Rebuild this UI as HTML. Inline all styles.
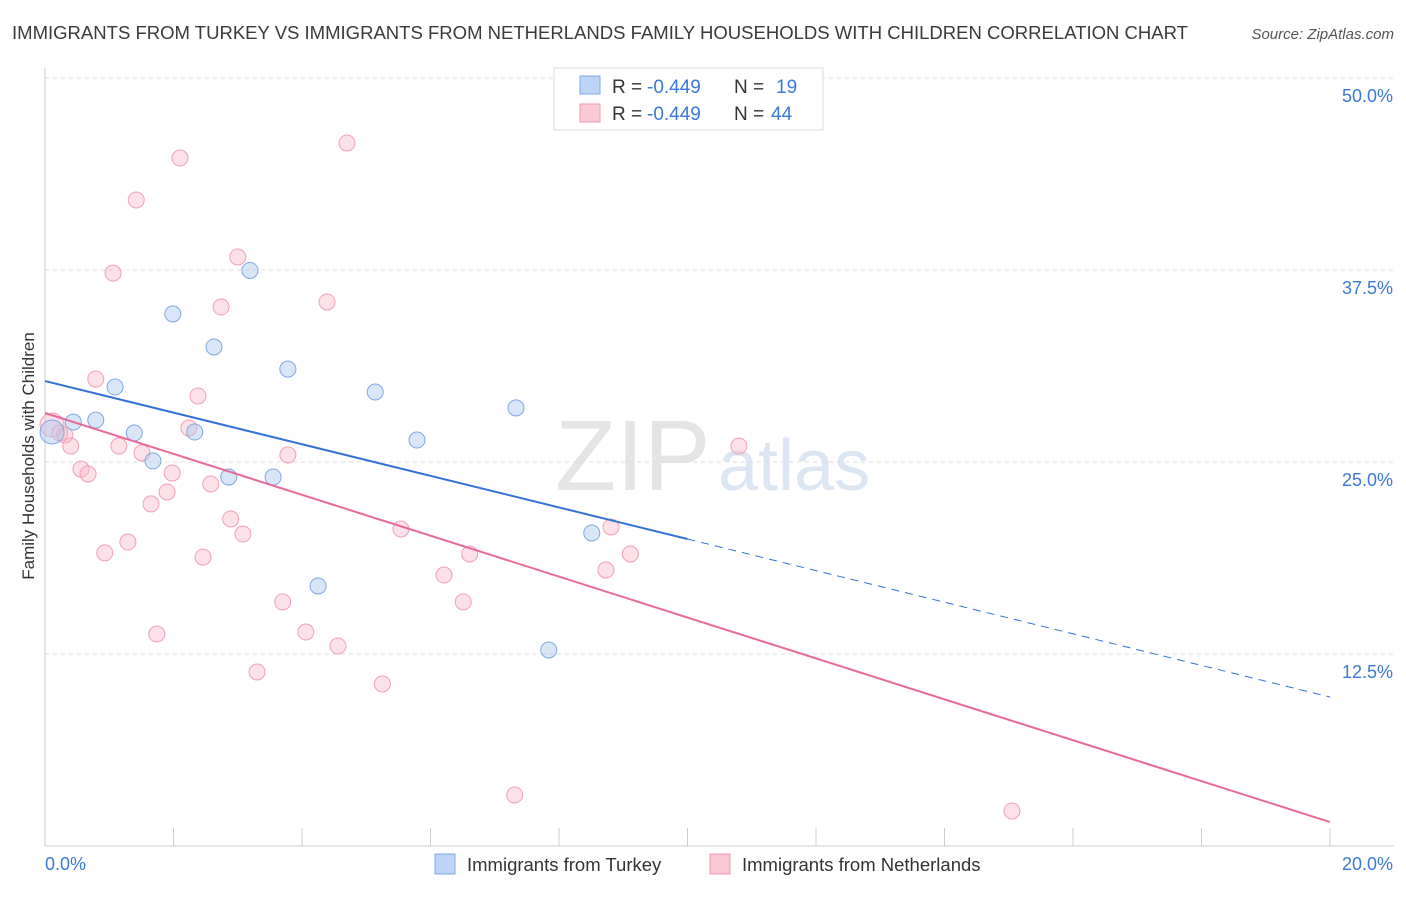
<!DOCTYPE html>
<html><head><meta charset="utf-8"><style>
body{margin:0;background:#fff;font-family:"Liberation Sans",sans-serif;}
svg text{font-family:"Liberation Sans",sans-serif;}
</style></head><body>
<svg id="c" width="1406" height="892">
<text x="12" y="39" font-size="18" fill="#3a3a3a" textLength="1176" lengthAdjust="spacingAndGlyphs">IMMIGRANTS FROM TURKEY VS IMMIGRANTS FROM NETHERLANDS FAMILY HOUSEHOLDS WITH CHILDREN CORRELATION CHART</text>
<text x="1394" y="39" font-size="15" fill="#555" text-anchor="end" font-style="italic">Source: ZipAtlas.com</text>
<text x="555" y="490" font-size="100" fill="#e4e4e4" font-family="Liberation Serif">ZIP</text>
<text x="718" y="490" font-size="72" fill="#dce6f3">atlas</text>
<text transform="translate(34,456) rotate(-90)" font-size="17" fill="#333" text-anchor="middle">Family Households with Children</text>
<g id="grid"></g><g id="marks"></g>
<g>
<rect x="554" y="68" width="269" height="62" fill="#fff" stroke="#ddd"/>
<rect x="580" y="76" width="20" height="18" fill="#bcd4f5" stroke="#7fa9e0"/>
<rect x="580" y="104" width="20" height="18" fill="#fbc8d6" stroke="#f09ab2"/>
<text x="612" y="93" font-size="19" fill="#333">R =</text><text x="647" y="93" font-size="19" fill="#3b78d8">-0.449</text>
<text x="734" y="93" font-size="19" fill="#333">N =</text><text x="776" y="93" font-size="19" fill="#3b78d8">19</text>
<text x="612" y="120" font-size="19" fill="#333">R =</text><text x="647" y="120" font-size="19" fill="#3b78d8">-0.449</text>
<text x="734" y="120" font-size="19" fill="#333">N =</text><text x="771" y="120" font-size="19" fill="#3b78d8">44</text>
</g>
<g>
<rect x="435" y="854" width="20" height="20" fill="#bcd4f5" stroke="#7fa9e0"/>
<text x="467" y="871" font-size="18.5" fill="#333">Immigrants from Turkey</text>
<rect x="710" y="854" width="20" height="20" fill="#fbc8d6" stroke="#f09ab2"/>
<text x="742" y="871" font-size="18.5" fill="#333">Immigrants from Netherlands</text>
</g>
</svg>
<script>
const xTicks=[0,20];
const yTicks=[12.5,25,37.5,50];
const turkeyX=[0.11,0.44,0.79,1.09,1.39,1.68,1.99,2.33,2.63,2.86,3.19,3.55,3.78,4.25,5.14,5.79,7.33,7.84,8.51];
const turkeyY=[26.95,27.6,27.73,29.88,26.89,25.07,34.64,26.95,32.49,24.02,37.47,24.02,31.05,16.93,29.56,26.43,28.52,12.76,20.38];
const nethX=[0.11,0.23,0.31,0.56,0.40,0.67,0.79,0.93,1.06,1.15,1.29,1.42,1.51,1.65,1.74,1.90,1.98,2.10,2.24,2.38,2.46,2.58,2.74,2.89,3.00,3.08,3.30,3.70,3.78,4.06,4.39,4.56,4.70,5.25,5.54,6.21,6.51,6.61,7.31,8.73,8.81,9.11,10.80,15.05];
const nethY=[27.41,26.89,26.76,24.54,26.04,24.22,30.4,19.08,37.3,26.04,19.79,42.06,25.59,22.27,13.8,23.05,24.28,44.79,27.21,29.3,18.81,23.57,35.09,21.29,38.35,20.31,11.33,15.89,25.46,13.93,35.42,13.02,45.77,10.55,20.64,17.64,15.89,19.01,3.32,17.97,20.77,19.01,26.04,2.28];
const turkeyLine=[30.27,9.70], nethLine=[28.19,1.56];
const X=v=>45+v/20*1285, Y=v=>846-v/12.5*192;
const NS='http://www.w3.org/2000/svg';
function mk(tag,attrs,parent){const e=document.createElementNS(NS,tag);for(const k in attrs)e.setAttribute(k,attrs[k]);parent.appendChild(e);return e;}
const g=document.getElementById('grid'), m=document.getElementById('marks');
yTicks.forEach(t=>{
 const l=mk('line',{x1:45,x2:1394,y1:Y(t),y2:Y(t),stroke:'#ddd','stroke-dasharray':'4,4'},g);
 
 
 const tx=mk('text',{x:1393,y:Y(t)+24,'font-size':18,fill:'#3b78d8','text-anchor':'end'},g);tx.textContent=t.toFixed(1)+'%';
 
 
});
mk('line',{x1:45,x2:45,y1:68,y2:846,stroke:'#ccc'},g);
mk('line',{x1:45,x2:1394,y1:846,y2:846,stroke:'#ccc'},g);
for(let i=0;i<=10;i++){mk('line',{x1:X(i*2),x2:X(i*2),y1:828,y2:846,stroke:'#ccc'},g);}
xTicks.forEach((t,i)=>{const tx=mk('text',{x:i?1393:45,y:870,'font-size':18,fill:'#3b78d8','text-anchor':i?'end':'start'},g);tx.textContent=t.toFixed(1)+'%';
 
 });
nethX.forEach((x,i)=>{const c=mk('circle',{cx:X(x),cy:Y(nethY[i]),r:i==0?12:8,fill:'rgba(248,180,200,0.4)',stroke:'#f0a0b8','stroke-width':1},m);
 
 });
turkeyX.forEach((x,i)=>{const c=mk('circle',{cx:X(x),cy:Y(turkeyY[i]),r:i==0?12:8,fill:'rgba(170,200,240,0.45)',stroke:'#7fa9e0','stroke-width':1},m);
 
 });
const ty=x=>turkeyLine[0]+(turkeyLine[1]-turkeyLine[0])*x/20;
let l1=mk('line',{x1:X(0),y1:Y(ty(0)),x2:X(10),y2:Y(ty(10)),stroke:'#3373d6','stroke-width':2},m);


let l2=mk('line',{x1:X(10),y1:Y(ty(10)),x2:X(20),y2:Y(ty(20)),stroke:'#3373d6','stroke-width':1,'stroke-dasharray':'8,6'},m);


let l3=mk('line',{x1:X(0),y1:Y(nethLine[0]),x2:X(20),y2:Y(nethLine[1]),stroke:'#e8699a','stroke-width':2},m);


</script>
</body></html>
